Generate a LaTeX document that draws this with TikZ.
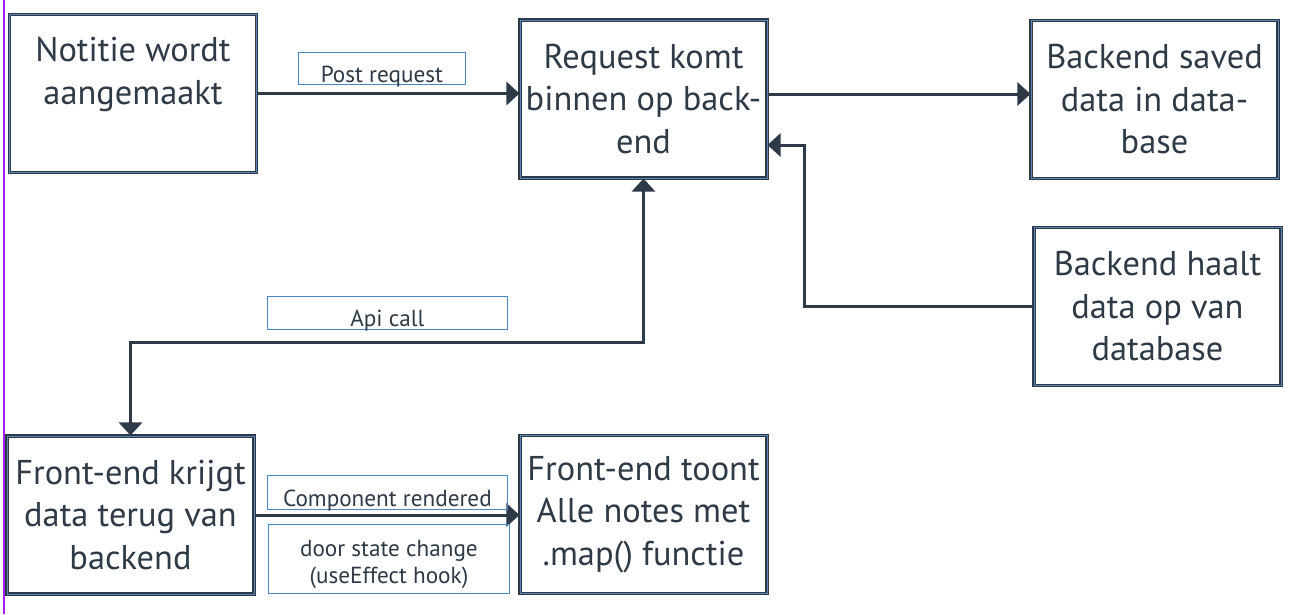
\documentclass[tikz,border=0pt]{standalone}
\usepackage{fontspec}
\setmainfont{PT Sans}
\usetikzlibrary{arrows.meta,calc}
\definecolor{ink}{HTML}{2E3A48}
\definecolor{lblue}{HTML}{4A86C8}
\definecolor{bblue}{HTML}{5A86B8}
\definecolor{pur}{HTML}{A020F0}
\newcommand{\bigf}{\fontsize{34.4}{42.5}\selectfont}
\newcommand{\smallf}{\fontsize{23.2}{27}\selectfont}
\begin{document}
\begin{tikzpicture}[x=1pt,y=-1pt,
  >={Triangle[length=13pt,width=23pt]},
  box/.style={draw=ink, double=bblue, double distance=1pt, line width=1.1pt,
    fill=white, minimum width=247pt, minimum height=158pt, inner sep=0pt,
    align=center, font=\bigf, text=ink},
  lbl/.style={draw=lblue, line width=0.8pt, inner sep=0pt, anchor=north west},
  lbltext/.style={font=\smallf, text=ink, inner sep=0pt, align=center},
  conn/.style={draw=ink, line width=3pt}
]
\useasboundingbox (0,0) rectangle (1294,614);
\fill[white] (0,0) rectangle (1294,614);
\coordinate (pt) at (4,0);
\coordinate (pb) at (4,614);
\draw[pur, line width=1.2pt] (pt) -- (pb);

\node[box] (b1) at (133,93.5) {Notitie wordt\\aangemaakt\\[-10pt]\strut};
\node[box] (b2) at (643.5,99) {Request komt\\binnen op back-\\end};
\node[box] (b3) at (1154.5,99.5) {Backend saved\\data in data-\\base};
\node[box] (b4) at (1157.5,306.5) {Backend haalt\\data op van\\database};
\node[box] (b5) at (130.5,515) {Front-end krijgt\\data terug van\\backend};
\node[box] (b6) at (643.5,514.5) {Front-end toont\\Alle notes met\\.map() functie};

% connectors
\draw[conn, ->] (b1.east) -- (b1.east -| b2.west);
\draw[conn, ->] ($(b2.east)+(0,-5)$) -- ($(b2.east -| b3.west)+(0,-5)$);
\draw[conn, ->] (b4.west) -| ($(b2.east)+(37,46)$) -- ($(b2.east)+(0,46)$);
\draw[conn, <->] (b2.south) -- ++(0,164) -| (b5.north);
\draw[conn, ->] (b5.east) -- (b5.east -| b6.west);

% labels
\node[lbl, minimum width=167pt, minimum height=32pt] (l1) at (298,52) {};
\node[lbltext, anchor=base] (t1) at ($(l1.south)+(0,-2)$) {Post request};
\node[lbl, minimum width=240pt, minimum height=33pt] (l2) at (267,296) {};
\node[lbltext, anchor=base] (t2) at ($(l2.south)+(0,-3)$) {Api call};
\node[lbl, minimum width=240pt, minimum height=34pt] (l3) at (267,475) {};
\node[lbltext, anchor=base] (t3) at ($(l3.south)+(0,-3)$) {Component rendered};
\node[lbl, minimum width=241pt, minimum height=69pt] (l4) at (268,524) {};
\node[lbltext, anchor=base] (t4) at ($(l4.north)+(0,32)$) {door state change};
\node[lbltext, anchor=base] (t5) at ($(l4.north)+(0,59)$) {(useEffect hook)};
\end{tikzpicture}
\end{document}
